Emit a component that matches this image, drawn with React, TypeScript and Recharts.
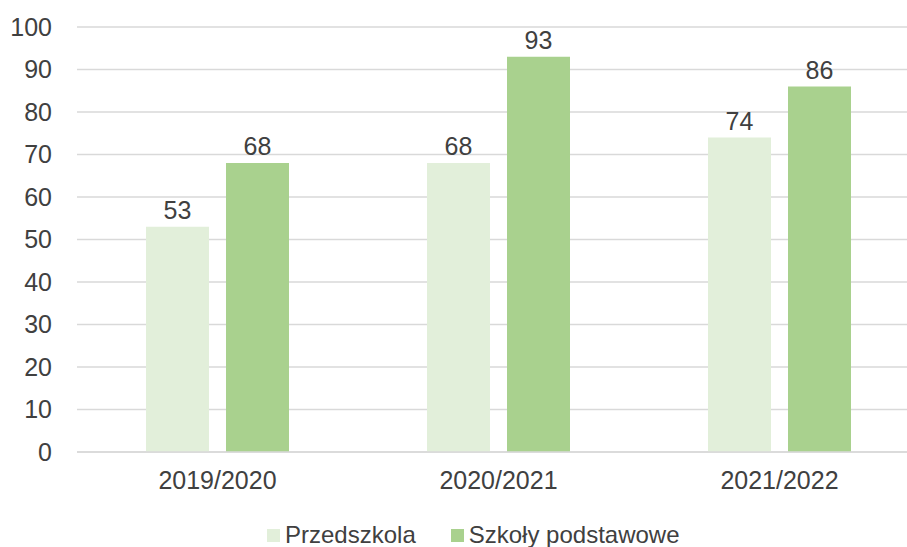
import React from 'react';
import { BarChart, Bar, XAxis, YAxis, CartesianGrid, Legend, LabelList } from 'recharts';

const years = ['2019/2020', '2020/2021', '2021/2022'];
const przedszkola = [53, 68, 74];
const szkoly = [68, 93, 86];
const yTicks = [0, 10, 20, 30, 40, 50, 60, 70, 80, 90, 100];

const data = years.map((year, i) => ({
  year,
  przedszkola: przedszkola[i],
  szkoly: szkoly[i],
}));

const TEXT = '#404040';
const LIGHT = '#E2EFDA';
const DARK = '#A9D18E';
const FONT = '"Liberation Sans", Arial, sans-serif';

const series = [
  { key: 'przedszkola', name: 'Przedszkola', color: LIGHT },
  { key: 'szkoly', name: 'Szkoły podstawowe', color: DARK },
];

const LegendContent = () => (
  <div style={{ display: 'flex', alignItems: 'center', fontFamily: FONT, fontSize: 24, color: TEXT }}>
    {series.map((s, i) => (
      <div key={s.key} style={{ display: 'flex', alignItems: 'center', marginRight: i === 0 ? 35 : 0 }}>
        <span style={{ display: 'inline-block', width: 13, height: 13, background: s.color, marginRight: 5 }} />
        <span>{s.name}</span>
      </div>
    ))}
  </div>
);

export default function App() {
  return (
    <div style={{ position: 'absolute', left: 0, top: 0, width: 907, height: 547, overflow: 'hidden', background: '#fff' }}>
      <BarChart
        width={920}
        height={547}
        data={data}
        margin={{ top: 27, right: 0, left: 0, bottom: 0 }}
        barCategoryGap="24.5%"
        barGap={17}
      >
        <CartesianGrid vertical={false} stroke="#D9D9D9" strokeWidth={1.5} />
        <XAxis
          dataKey="year"
          height={67}
          tickLine={false}
          axisLine={{ stroke: '#D9D9D9', strokeWidth: 1.5 }}
          tick={{ fill: TEXT, fontSize: 25, fontFamily: FONT }}
          tickMargin={13}
        />
        <YAxis
          width={77}
          domain={[0, 100]}
          ticks={yTicks}
          interval={0}
          tickLine={false}
          axisLine={false}
          tickSize={0}
          tickMargin={25}
          tick={{ fill: TEXT, fontSize: 25, fontFamily: FONT }}
        />
        <Legend
          verticalAlign="bottom"
          content={<LegendContent />}
          wrapperStyle={{ left: 267, width: 'auto', bottom: -2 }}
        />
        {series.map((s) => (
          <Bar key={s.key} dataKey={s.key} name={s.name} fill={s.color} barSize={63} isAnimationActive={false}>
            <LabelList dataKey={s.key} position="top" offset={8} fill={TEXT} fontSize={25} fontFamily={FONT} />
          </Bar>
        ))}
      </BarChart>
    </div>
  );
}
